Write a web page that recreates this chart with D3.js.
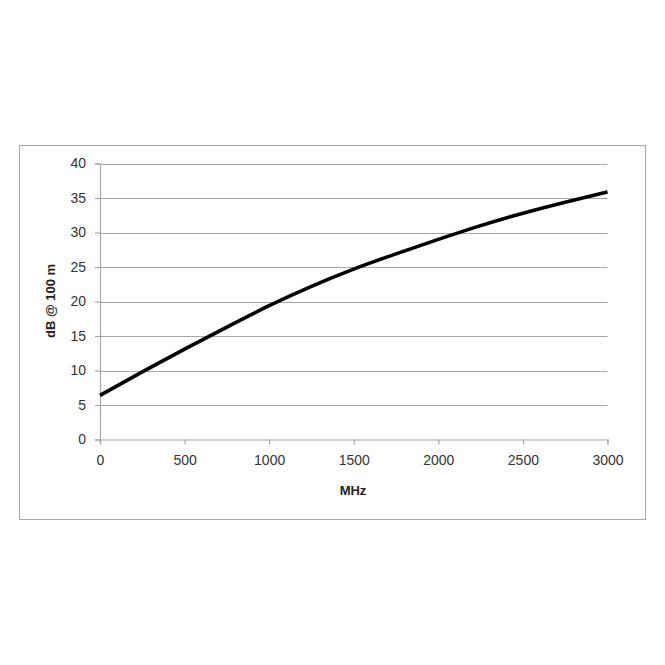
<!DOCTYPE html>
<html><head><meta charset="utf-8">
<script src="https://cdn.jsdelivr.net/npm/d3@7"></script>
<style>body{margin:0;background:#fff}</style>
</head><body>
<script>
const freqs = [0,250,500,750,1000,1250,1500,1750,2000,2250,2500,2750,3000];
const attenuation = [6.4,9.8,13.1,16.3,19.4,22.2,24.7,26.9,29.0,31.0,32.8,34.4,35.9];
const xTicks = [0,500,1000,1500,2000,2500,3000];
const yTicks = [0,5,10,15,20,25,30,35,40];
const xTitle = "MHz";
const yTitle = "dB @ 100 m";

const W=665,H=665;
const svg=d3.select("body").append("svg").attr("width",W).attr("height",H);
svg.append("rect").attr("x",19.5).attr("y",145.5).attr("width",626).attr("height",374)
  .attr("fill","#fff").attr("stroke","#a8a8a8").attr("stroke-width",1);

const x=d3.scaleLinear().domain([0,3000]).range([100,607.5]);
const y=d3.scaleLinear().domain([0,40]).range([439.5,163.5]);
const font="'Liberation Sans', 'Open Sans', sans-serif";
const grey="#a6a6a6";

// gridlines
svg.append("g").selectAll("line").data(yTicks.filter(d=>d>0)).join("line")
  .attr("x1",x(0)).attr("x2",x(3000)).attr("y1",d=>Math.round(y(d))+0.5).attr("y2",d=>Math.round(y(d))+0.5)
  .attr("stroke",grey).attr("stroke-width",1.2);

// y axis
const ya=svg.append("g").attr("transform",`translate(${x(0)},0)`)
  .call(d3.axisLeft(y).tickValues(yTicks).tickSize(5).tickPadding(9).tickFormat(d3.format("d")));
// x axis
const xa=svg.append("g").attr("transform",`translate(0,${y(0)})`)
  .call(d3.axisBottom(x).tickValues(xTicks).tickSize(5).tickPadding(11).tickFormat(d3.format("d")));
[ya,xa].forEach(a=>{
  a.selectAll("path,line").attr("stroke",grey).attr("stroke-width",1.2);
  a.selectAll("text").attr("fill","#333").style("font-family",font).style("font-size","14px");
});

// curve
const line=d3.line().x((d,i)=>x(freqs[i])).y(d=>y(d)).curve(d3.curveNatural);
svg.append("path").attr("d",line(attenuation)).attr("fill","none").attr("stroke","#000").attr("stroke-width",3.6);

// titles
svg.append("text").attr("x",353).attr("y",495).attr("text-anchor","middle")
  .style("font-family",font).style("font-weight","bold").style("font-size","13px").attr("fill","#222").text(xTitle);
svg.append("text").attr("transform","translate(55,301) rotate(-90)").attr("text-anchor","middle")
  .style("font-family",font).style("font-weight","bold").style("font-size","13px").attr("fill","#222").text(yTitle);
</script>
</body></html>
